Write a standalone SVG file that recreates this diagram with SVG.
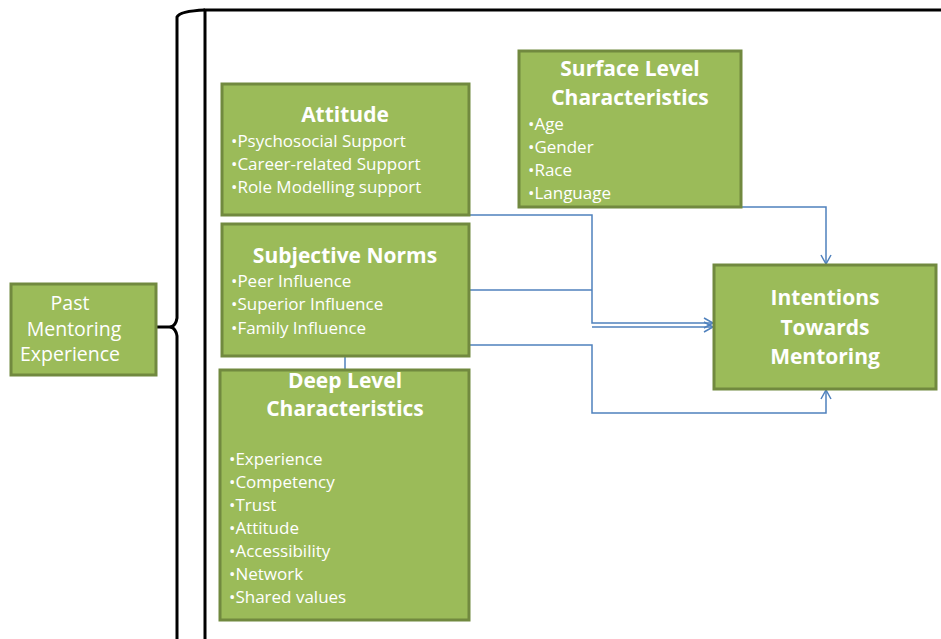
<svg xmlns="http://www.w3.org/2000/svg" width="941" height="639" viewBox="0 0 941 639">
<style>
.box{fill:#9BBB59;stroke:#71893F;stroke-width:3}
.t{font-family:"Open Sans",Lato,"Liberation Sans",sans-serif;fill:#fff}
.h{font-size:21px;font-weight:bold;text-anchor:middle}
.b{font-size:17px}
.c{fill:none;stroke:#4F81BD;stroke-width:1.5}
.k{fill:none;stroke:#000;stroke-width:3}
</style>
<defs>
<marker id="ar" markerWidth="12" markerHeight="12" refX="10" refY="6" orient="auto" markerUnits="userSpaceOnUse">
<path d="M1,1 L10,6 L1,11" fill="none" stroke="#4F81BD" stroke-width="1.5"/>
</marker>
</defs>
<g id="frame">
<path class="k" d="M205,640 V10 H941"/>
<path class="k" d="M205,10 Q180,11 177,17 V318 Q176,325 171,327 Q176,329 177,336 V640"/>
<path class="k" d="M147,327 H172"/>
</g>
<g id="connectors">
<path class="c" d="M469,215 H592 V323 H713" marker-end="url(#ar)"/>
<path class="c" d="M469,290 H592"/>
<path class="c" d="M592,327 H713" marker-end="url(#ar)"/>
<path class="c" d="M469,345 H592 V413 H826 V390" marker-end="url(#ar)"/>
<path class="c" d="M630,207 H826 V264" marker-end="url(#ar)"/>
<path class="c" d="M345,356 V370"/>
</g>
<g id="past">
<rect class="box" x="11" y="284" width="145" height="91"/>
<text class="t" font-size="19.5" text-anchor="middle"><tspan x="70" y="310">Past</tspan><tspan x="74" y="336">Mentoring</tspan><tspan x="70" y="361">Experience</tspan></text>
</g>
<g id="attitude">
<rect class="box" x="222" y="84" width="247" height="131"/>
<text class="t h" x="345" y="122">Attitude</text>
<text class="t b"><tspan x="231" y="147">•Psychosocial Support</tspan><tspan x="231" y="170">•Career-related Support</tspan><tspan x="231" y="193">•Role Modelling support</tspan></text>
</g>
<g id="surface">
<rect class="box" x="519" y="51" width="222" height="156"/>
<text class="t h"><tspan x="630" y="76">Surface Level</tspan><tspan x="630" y="105">Characteristics</tspan></text>
<text class="t b"><tspan x="528" y="130">•Age</tspan><tspan x="528" y="153">•Gender</tspan><tspan x="528" y="176">•Race</tspan><tspan x="528" y="199">•Language</tspan></text>
</g>
<g id="norms">
<rect class="box" x="222" y="224" width="247" height="132"/>
<text class="t h" x="345" y="263">Subjective Norms</text>
<text class="t b"><tspan x="231" y="287">•Peer Influence</tspan><tspan x="231" y="310">•Superior Influence</tspan><tspan x="231" y="334">•Family Influence</tspan></text>
</g>
<g id="deep">
<rect class="box" x="220" y="370" width="249" height="250"/>
<text class="t h"><tspan x="345" y="388">Deep Level</tspan><tspan x="345" y="416">Characteristics</tspan></text>
<text class="t b"><tspan x="229" y="465">•Experience</tspan><tspan x="229" y="488">•Competency</tspan><tspan x="229" y="511">•Trust</tspan><tspan x="229" y="534">•Attitude</tspan><tspan x="229" y="557">•Accessibility</tspan><tspan x="229" y="580">•Network</tspan><tspan x="229" y="603">•Shared values</tspan></text>
</g>
<g id="intentions">
<rect class="box" x="714" y="265" width="222" height="124"/>
<text class="t h"><tspan x="825" y="305">Intentions</tspan><tspan x="825" y="335">Towards</tspan><tspan x="825" y="364">Mentoring</tspan></text>
</g>
</svg>
